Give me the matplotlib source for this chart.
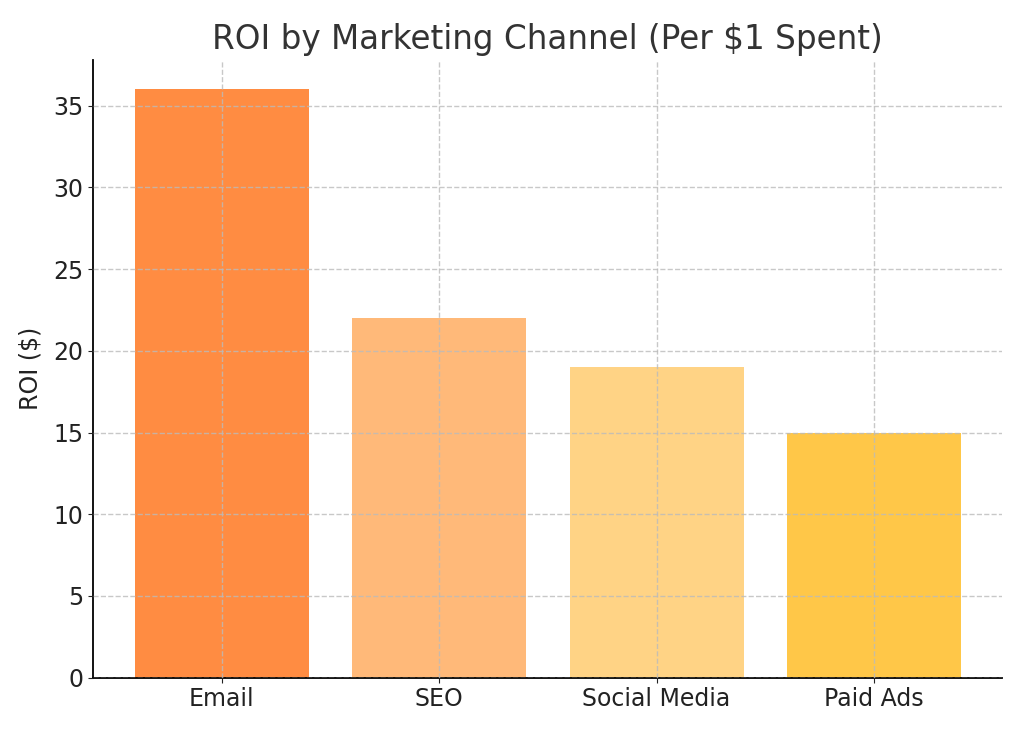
import matplotlib
matplotlib.use("Agg")
import matplotlib.pyplot as plt

channels = ["Email", "SEO", "Social Media", "Paid Ads"]
roi = [36, 22, 19, 15]
colors = ["#FF8C42", "#FFB979", "#FFD385", "#FFC748"]

fig, ax = plt.subplots(figsize=(10.24, 7.31), dpi=100)
fig.subplots_adjust(left=0.091, right=0.979, top=0.918, bottom=0.073)
ax.bar(channels, roi, color=colors, width=0.8, zorder=2)
ax.set_title("ROI by Marketing Channel (Per $1 Spent)", fontsize=23.5, color="#333333", pad=8)
ax.set_ylabel("ROI ($)", fontsize=17, color="#222222", labelpad=8)
ax.tick_params(axis="both", labelsize=17, colors="#222222")
ax.grid(True, linestyle="--", color="#bbbbbb", alpha=0.8, linewidth=1, zorder=0)
ax.set_axisbelow(False)
for s in ["top", "right"]:
    ax.spines[s].set_visible(False)
ax.spines["left"].set_linewidth(1.3)
ax.spines["bottom"].set_linewidth(1.3)
fig.savefig("out.png", dpi=100)
